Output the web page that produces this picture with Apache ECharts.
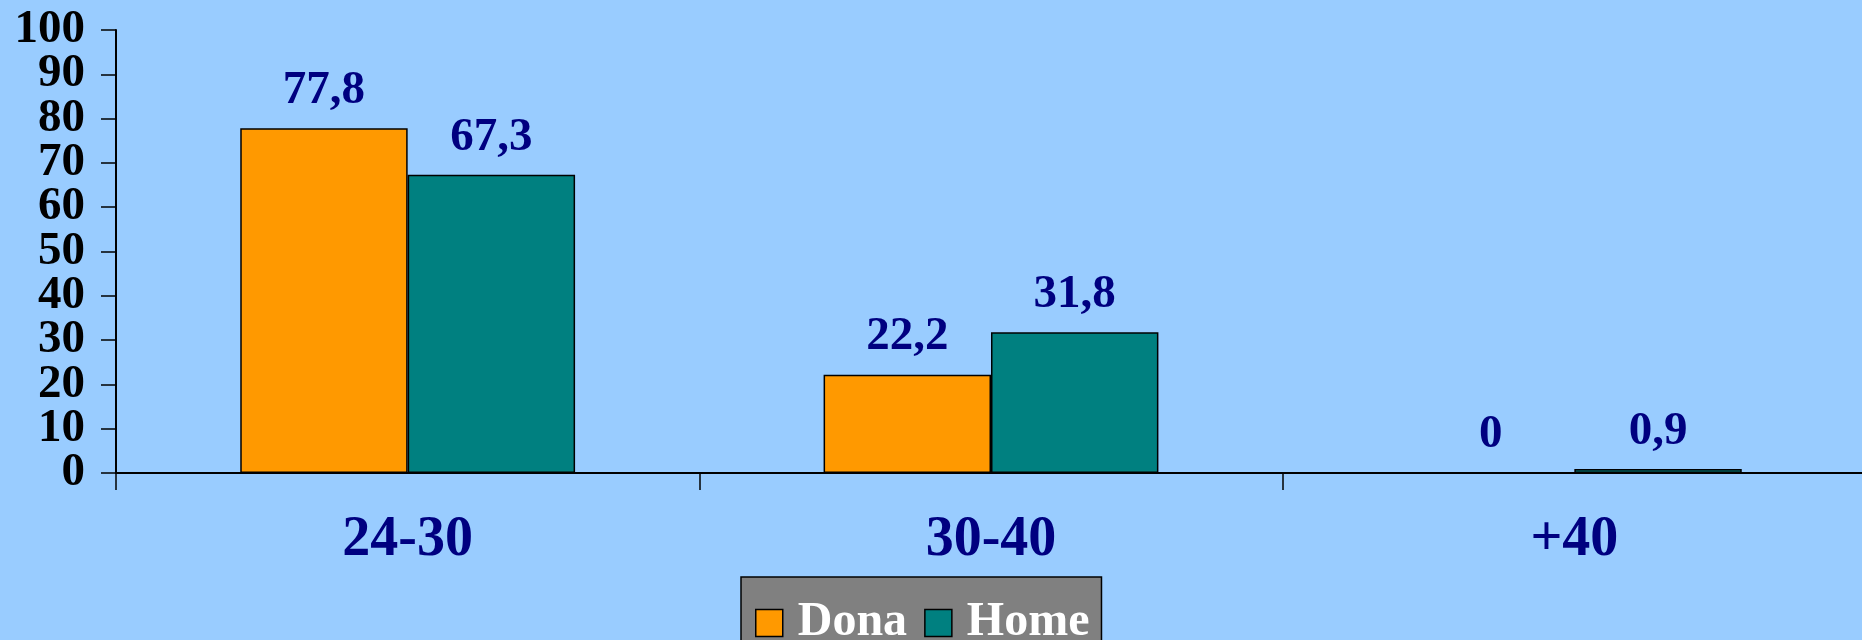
<!DOCTYPE html>
<html>
<head>
<meta charset="utf-8">
<script src="https://cdn.jsdelivr.net/npm/echarts@6/dist/echarts.min.js"></script>
<style>
  html, body { margin: 0; padding: 0; background: #99CCFF; overflow: hidden; }
  #chart { width: 1862px; height: 640px; }
</style>
</head>
<body>
<div id="chart"></div>
<script>
// Age groups on the x axis
const categories = ['24-30', '30-40', '+40'];
// Percentages per group
const dona = [77.8, 22.2, 0];
const home = [67.3, 31.8, 0.9];
const seriesNames = ['Dona', 'Home'];
// Tick labels for the percentage axis
const yTickLabels = ['0', '10', '20', '30', '40', '50', '60', '70', '80', '90', '100'];

const serif = '"Liberation Serif", "Times New Roman", serif';
const fmt = p => String(p.value).replace('.', ',');

const chart = echarts.init(document.getElementById('chart'), null, { renderer: 'canvas' });

const labelStyle = {
  show: true,
  position: 'top',
  distance: 14,
  color: '#000080',
  fontFamily: serif,
  fontWeight: 'bold',
  fontSize: 47,
  formatter: fmt
};

chart.setOption({
  backgroundColor: '#99CCFF',
  animation: false,
  // the plot runs slightly past the right edge, so its closing tick is off-canvas
  grid: {
    left: 116, width: 1750, top: 30, bottom: 167,
    containLabel: false,
    outerBoundsMode: 'none'
  },
  legend: {
    data: seriesNames,
    left: 741,
    top: 577,
    orient: 'horizontal',
    backgroundColor: '#808080',
    borderColor: '#000000',
    borderWidth: 1.5,
    padding: [22, 12, 30, 14],
    itemWidth: 27,
    itemHeight: 27,
    itemGap: 17,
    icon: 'rect',
    itemStyle: { borderColor: '#000000', borderWidth: 1.5 },
    textStyle: {
      color: '#ffffff',
      fontFamily: serif,
      fontWeight: 'bold',
      fontSize: 48,
      padding: [0, 0, 0, 10]
    }
  },
  xAxis: {
    type: 'category',
    data: categories,
    boundaryGap: true,
    axisLine: { lineStyle: { color: '#000000', width: 2 } },
    axisTick: { show: true, alignWithLabel: false, length: 17, lineStyle: { color: '#000000', width: 1.5 } },
    axisLabel: {
      margin: 40,
      color: '#000080',
      fontFamily: serif,
      fontWeight: 'bold',
      fontSize: 56
    },
    splitLine: { show: false }
  },
  yAxis: [
    {
      // value scale: line and ticks
      type: 'value',
      min: 0,
      max: 100,
      interval: 10,
      axisLine: { show: true, lineStyle: { color: '#000000', width: 2 } },
      axisTick: { show: true, length: 15, lineStyle: { color: '#000000', width: 1.5 } },
      axisLabel: { show: false },
      splitLine: { show: false }
    },
    {
      // tick labels, one per step of 10
      type: 'category',
      position: 'left',
      data: yTickLabels,
      boundaryGap: false,
      axisLine: { show: false },
      axisTick: { show: false },
      splitLine: { show: false },
      axisLabel: {
        interval: 0,
        margin: 31,
        color: '#000000',
        fontFamily: serif,
        fontWeight: 'bold',
        fontSize: 47
      }
    }
  ],
  series: [
    {
      name: seriesNames[0],
      type: 'bar',
      yAxisIndex: 0,
      data: dona,
      barGap: '0%',
      barCategoryGap: '42.6%',
      itemStyle: { color: '#FF9900', borderColor: '#000000', borderWidth: 1.5 },
      label: labelStyle
    },
    {
      name: seriesNames[1],
      type: 'bar',
      yAxisIndex: 0,
      data: home,
      barGap: '0%',
      barCategoryGap: '42.6%',
      itemStyle: { color: '#008080', borderColor: '#000000', borderWidth: 1.5 },
      label: labelStyle
    }
  ]
});
</script>
</body>
</html>
